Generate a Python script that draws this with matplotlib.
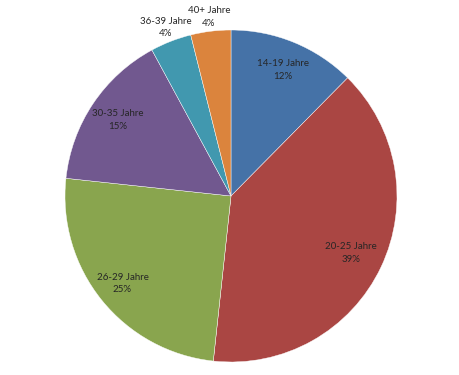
import numpy as np
import matplotlib
matplotlib.use("Agg")
import matplotlib.pyplot as plt

groups = ["14-19 Jahre", "20-25 Jahre", "26-29 Jahre", "30-35 Jahre", "36-39 Jahre", "40+ Jahre"]
shares = [12.4, 39.3, 25.0, 15.4, 4.0, 3.9]
colors = ["#4572A7", "#AA4643", "#89A54E", "#71588F", "#4198AF", "#DB843D"]
label_dist = [0.82, 0.80, 0.84, 0.82, 1.09, 1.085]

plt.rcParams["font.family"] = ["Lato", "DejaVu Sans"]

fig = plt.figure(figsize=(4.6, 3.75), dpi=100)
cx, cy, r = 231, 196, 166
ax = fig.add_axes([(cx - r) / 460, (375 - cy - r) / 375, 2 * r / 460, 2 * r / 375])

wedges, _ = ax.pie(shares, colors=colors, startangle=90, counterclock=False,
                   radius=1.0, wedgeprops=dict(edgecolor="white", linewidth=0.3))

total = sum(shares)
for w, name, val, d in zip(wedges, groups, shares, label_dist):
    mid = np.deg2rad((w.theta1 + w.theta2) / 2)
    ax.text(d * np.cos(mid), d * np.sin(mid), f"{name}\n{val / total * 100:.0f}%",
            ha="center", va="center", fontsize=7, color="#262626", linespacing=1.5)

ax.set_xlim(-1, 1)
ax.set_ylim(-1, 1)
ax.set_aspect("equal")
ax.axis("off")

fig.savefig("out.png", dpi=100)
